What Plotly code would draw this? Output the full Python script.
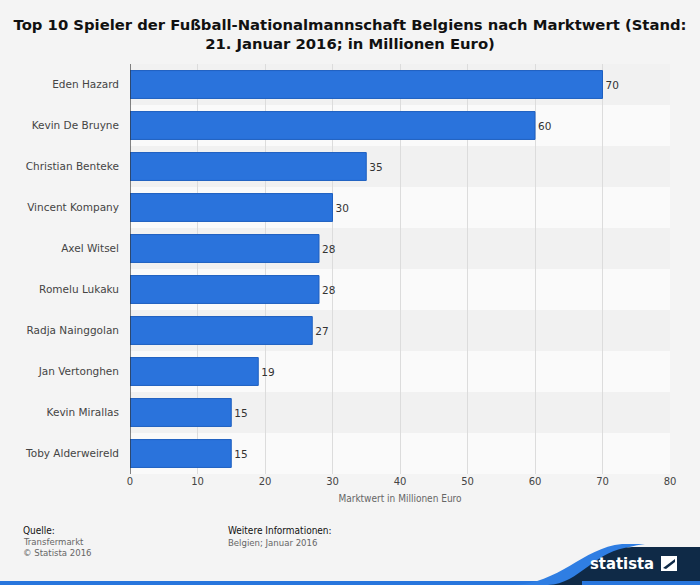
import plotly.graph_objects as go

players = ["Eden Hazard", "Kevin De Bruyne", "Christian Benteke", "Vincent Kompany",
           "Axel Witsel", "Romelu Lukaku", "Radja Nainggolan", "Jan Vertonghen",
           "Kevin Mirallas", "Toby Alderweireld"]
values = [70, 60, 35, 30, 28, 28, 27, 19, 15, 15]
x_ticks = [0, 10, 20, 30, 40, 50, 60, 70, 80]

W, H = 700, 585
L, R, T, B = 130, 30, 64, 111
pw, ph = W - L - R, H - T - B

def px(x):
    return (x - L) / pw

def py(y):
    return (H - B - y) / ph

fig = go.Figure()
fig.add_trace(go.Bar(
    y=players, x=values, orientation="h",
    marker=dict(color="#2a73dc", line=dict(color="#1d5fc0", width=1)),
    width=0.68,
    text=[str(v) for v in values], textposition="outside",
    textfont=dict(family="DejaVu Sans", size=10.5, color="#333333"),
    cliponaxis=False, hoverinfo="skip",
))

shapes = []
for i, p in enumerate(players):
    shapes.append(dict(type="rect", xref="paper", yref="y", x0=0, x1=1,
                       y0=i - 0.5, y1=i + 0.5, layer="below", line=dict(width=0),
                       fillcolor="#f1f1f1" if i % 2 == 0 else "#fafafa"))
shapes.append(dict(type="line", xref="x", yref="paper", x0=0, x1=0, y0=0, y1=1,
                   line=dict(color="#333333", width=1.2)))
shapes.append(dict(type="rect", xref="paper", yref="paper", x0=px(0), x1=px(700),
                   y0=py(585), y1=py(581), line=dict(width=0), fillcolor="#2876dd"))
sw = (f"M {px(512)},{py(585)} C {px(560)},{py(584)} {px(582)},{py(548)} {px(622)},{py(544)} "
      f"L {px(645)},{py(544)} C {px(600)},{py(549)} {px(585)},{py(583)} {px(548)},{py(585)} Z")
shapes.append(dict(type="path", xref="paper", yref="paper", path=sw,
                   line=dict(width=0), fillcolor="#2f7ee3"))
nv = (f"M {px(548)},{py(585)} C {px(580)},{py(584)} {px(595)},{py(549)} {px(632)},{py(547)} "
      f"L {px(700)},{py(547)} L {px(700)},{py(585)} Z")
shapes.append(dict(type="path", xref="paper", yref="paper", path=nv,
                   line=dict(width=0), fillcolor="#0f2a47"))
shapes.append(dict(type="rect", xref="paper", yref="paper", x0=px(582), x1=px(700),
                   y0=py(585), y1=py(581), line=dict(width=0), fillcolor="#2876dd"))
shapes.append(dict(type="rect", xref="paper", yref="paper", x0=px(661), x1=px(677),
                   y0=py(571), y1=py(556), line=dict(width=0), fillcolor="#ffffff"))
shapes.append(dict(type="path", xref="paper", yref="paper",
                   path=f"M {px(663)},{py(568)} L {px(675)},{py(559)} L {px(675)},{py(562)} L {px(666)},{py(569)} Z",
                   line=dict(width=0), fillcolor="#0f2a47"))

foot = "DejaVu Sans Condensed"
annotations = [
    dict(text="Quelle:", x=px(21), y=py(530), font=dict(family=foot, size=10, color="#111111")),
    dict(text="Transfermarkt", x=px(21), y=py(541), font=dict(family=foot, size=9.5, color="#666666")),
    dict(text="© Statista 2016", x=px(21), y=py(552), font=dict(family=foot, size=9.5, color="#666666")),
    dict(text="Weitere Informationen:", x=px(226), y=py(530), font=dict(family=foot, size=10, color="#111111")),
    dict(text="Belgien; Januar 2016", x=px(226), y=py(542), font=dict(family=foot, size=9.5, color="#666666")),
    dict(text="<b>statista</b>", x=px(588), y=py(563), font=dict(family=foot, size=16.5, color="#ffffff")),
]
for a in annotations:
    a.update(xref="paper", yref="paper", xanchor="left", yanchor="middle", showarrow=False)

fig.update_layout(
    width=W, height=H,
    margin=dict(l=L, r=R, t=T, b=B),
    paper_bgcolor="#f4f4f4", plot_bgcolor="#f4f4f4",
    title=dict(text="<b>Top 10 Spieler der Fußball-Nationalmannschaft Belgiens nach Marktwert (Stand:<br>21. Januar 2016; in Millionen Euro)</b>",
               x=0.5, xref="container", xanchor="center", y=1 - 30 / H, yref="container", yanchor="middle",
               font=dict(family="DejaVu Sans", size=14.8, color="#111111")),
    xaxis=dict(range=[0, 80], tickvals=x_ticks, showgrid=True, gridcolor="#dcdcdc", gridwidth=1,
               zeroline=False, showline=False, ticks="",
               tickfont=dict(family="DejaVu Sans", size=10, color="#444444"),
               title=dict(text="Marktwert in Millionen Euro", standoff=8,
                          font=dict(family=foot, size=10, color="#666666"))),
    yaxis=dict(categoryorder="array", categoryarray=players, autorange="reversed",
               showgrid=False, zeroline=False, ticks="", ticksuffix="   ",
               tickfont=dict(family="DejaVu Sans", size=10.5, color="#444444")),
    shapes=shapes, annotations=annotations,
    showlegend=False, bargap=0.32,
)
fig.write_html("out.html", config={"displayModeBar": False},
               post_script="document.body.style.margin='0';")
